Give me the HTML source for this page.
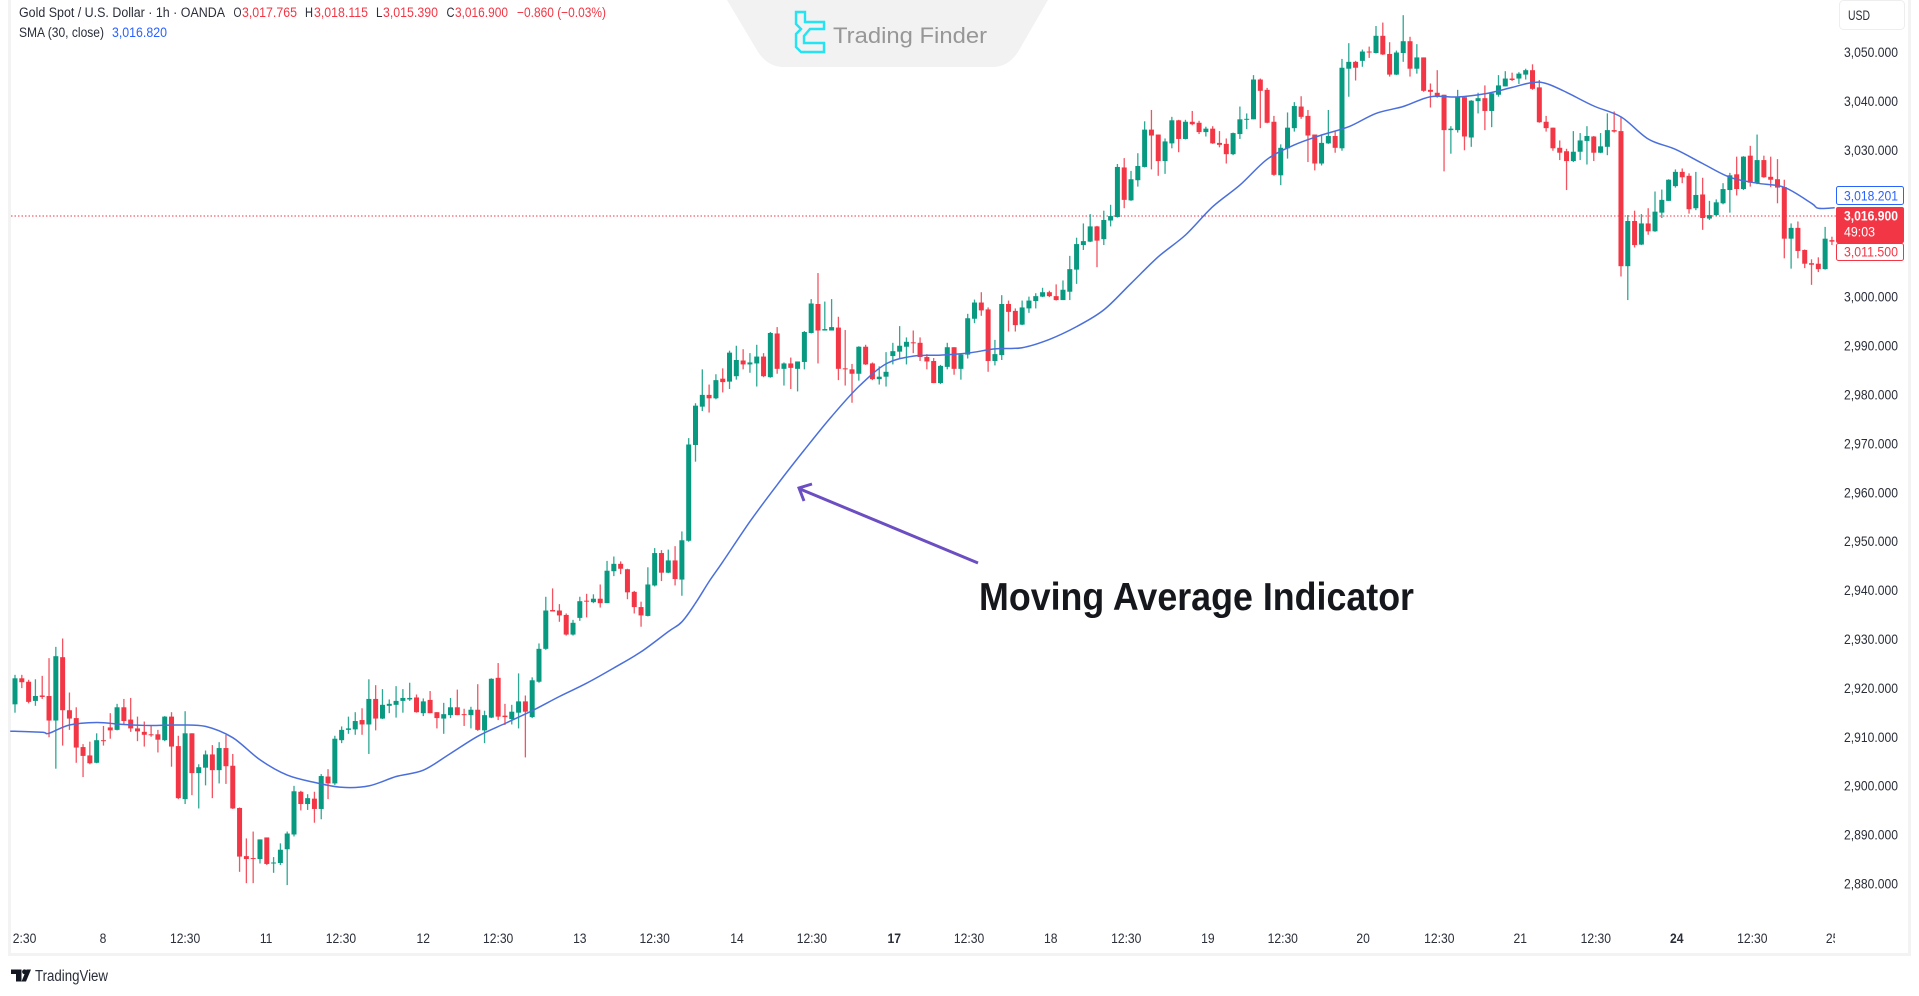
<!DOCTYPE html>
<html lang="en">
<head>
<meta charset="utf-8">
<title>Gold Spot / U.S. Dollar chart with Moving Average Indicator</title>
<style>
  html,body{margin:0;padding:0;background:#fff;width:1919px;height:996px;overflow:hidden}
  svg{display:block;filter:blur(.35px)}
  text{font-family:"Liberation Sans",sans-serif}
</style>
</head>
<body>
<svg id="chart" xmlns="http://www.w3.org/2000/svg" width="1919" height="996" viewBox="0 0 1919 996">
  <defs><clipPath id="time-clip"><rect x="12" y="920" width="1823" height="34"/></clipPath></defs>
  <rect width="1919" height="996" fill="#fff"/>
  <rect x="8" y="0" width="3" height="956" fill="#f3f3f3"/>
  <rect x="8" y="953" width="1903" height="3" fill="#f3f3f3"/>
  <rect x="1908" y="0" width="3" height="956" fill="#f3f3f3"/>

  <g id="y-axis"></g>
  <g id="x-axis" clip-path="url(#time-clip)"></g>

  <line x1="11" y1="216" x2="1836" y2="216" stroke="#f23645" stroke-width="1" stroke-dasharray="1.5 2"/>
  <g id="candles"></g>
  <path id="sma-line" fill="none" stroke="#4a6fdc" stroke-width="1.5" stroke-linejoin="round"/>

  <g font-size="13.5" fill="#2a2e39">
    <text x="19" y="17" textLength="206" lengthAdjust="spacingAndGlyphs">Gold Spot / U.S. Dollar · 1h · OANDA</text>
    <text x="233.5" y="17" textLength="8" lengthAdjust="spacingAndGlyphs">O</text>
    <text x="242" y="17" fill="#f23645" textLength="55" lengthAdjust="spacingAndGlyphs">3,017.765</text>
    <text x="305" y="17" textLength="8" lengthAdjust="spacingAndGlyphs">H</text>
    <text x="314" y="17" fill="#f23645" textLength="54" lengthAdjust="spacingAndGlyphs">3,018.115</text>
    <text x="376" y="17" textLength="6.5" lengthAdjust="spacingAndGlyphs">L</text>
    <text x="383" y="17" fill="#f23645" textLength="55" lengthAdjust="spacingAndGlyphs">3,015.390</text>
    <text x="446.5" y="17" textLength="8" lengthAdjust="spacingAndGlyphs">C</text>
    <text x="455" y="17" fill="#f23645" textLength="53" lengthAdjust="spacingAndGlyphs">3,016.900</text>
    <text x="517" y="17" fill="#f23645" textLength="89" lengthAdjust="spacingAndGlyphs">−0.860 (−0.03%)</text>
    <text x="19" y="37" textLength="85" lengthAdjust="spacingAndGlyphs">SMA (30, close)</text>
    <text x="112" y="37" fill="#2962ff" textLength="55" lengthAdjust="spacingAndGlyphs">3,016.820</text>
  </g>

  <g>
    <path d="M727 0H1048L1018 52Q1008 67 993 67H783Q768 67 758 52Z" fill="#f2f2f2"/>
    <path d="M796 12H805V22H824V29H810L804 36V43H824V52H801L796 47V34L801 29L796 24Z" fill="none" stroke="#22e4f2" stroke-width="2.4"/>
    <text x="833" y="43" font-size="22" fill="#979797" textLength="154" lengthAdjust="spacingAndGlyphs">Trading Finder</text>
  </g>

  <g fill="none" stroke="#6b4fc2" stroke-width="3">
    <line x1="978" y1="563" x2="800" y2="489"/>
    <polyline points="812,484 799,488 804,501"/>
  </g>
  <text x="979" y="610" font-size="39" font-weight="700" fill="#15171c" textLength="435" lengthAdjust="spacingAndGlyphs">Moving Average Indicator</text>

  <rect x="1839.5" y="0.5" width="65" height="29" rx="4" fill="#fff" stroke="#eeeeee"/>
  <text x="1848" y="20" font-size="13.5" fill="#2a2e39" textLength="22" lengthAdjust="spacingAndGlyphs">USD</text>

  <g font-size="14">
    <rect x="1836.5" y="186.5" width="67" height="18" rx="2" fill="#fff" stroke="#2962ff"/>
    <text x="1844" y="200.5" fill="#2962ff" textLength="54" lengthAdjust="spacingAndGlyphs">3,018.201</text>
    <rect x="1836" y="207" width="68" height="36" rx="2" fill="#f23645"/>
    <text x="1844" y="220.5" fill="#fff" font-weight="700" textLength="54" lengthAdjust="spacingAndGlyphs">3,016.900</text>
    <text x="1844" y="236.5" fill="#fff" textLength="31" lengthAdjust="spacingAndGlyphs">49:03</text>
    <rect x="1836.5" y="243.5" width="67" height="17" rx="2" fill="#fff" stroke="#f23645"/>
    <text x="1844" y="256.5" fill="#f23645" textLength="54" lengthAdjust="spacingAndGlyphs">3,011.500</text>
  </g>

  <g>
    <path d="M11 969.5H21.5V981.5H16V974H11Z" fill="#131722"/>
    <circle cx="24.5" cy="971.8" r="2.4" fill="#131722"/>
    <path d="M31 969.5L26 981.5H21.5L26.5 969.5Z" fill="#131722"/>
    <text x="35" y="981" font-size="15.5" fill="#2a2e39" textLength="73" lengthAdjust="spacingAndGlyphs">TradingView</text>
  </g>
</svg>

<script>
const opens = [
2917.4,2922.7,2922.0,2918.1,2919.2,2919.1,2914.1,2927.0,2916.2,2914.6,
2908.7,2907.0,2905.5,2910.1,2912.7,2912.2,2916.8,2914.3,2912.5,2911.8,
2911.3,2911.3,2910.1,2914.9,2908.9,2898.1,2911.5,2903.4,2904.5,2907.2,
2904.0,2908.5,2904.9,2896.3,2886.5,2886.1,2885.9,2890.3,2885.0,2885.1,
2887.9,2890.9,2899.6,2897.1,2898.2,2896.1,2902.7,2901.3,2910.1,2912.2,
2912.3,2914.2,2913.3,2918.5,2914.5,2917.1,2917.3,2918.1,2918.4,2918.8,
2915.6,2918.3,2915.8,2914.5,2915.2,2916.8,2915.4,2915.2,2916.3,2912.1,
2914.7,2922.8,2915.1,2914.4,2915.7,2918.0,2914.8,2922.0,2928.7,2936.6,
2936.5,2935.6,2931.6,2935.0,2938.5,2938.2,2938.9,2938.0,2944.5,2946.0,
2944.9,2940.3,2937.2,2935.4,2941.6,2948.2,2944.2,2946.7,2942.8,2950.7,
2970.2,2978.0,2980.4,2979.7,2983.7,2983.1,2984.2,2987.4,2986.6,2986.8,
2988.2,2984.0,2992.9,2985.7,2986.8,2985.7,2987.1,2993.0,2998.9,2993.5,
2993.5,2994.1,2985.8,2985.6,2984.7,2990.2,2986.8,2983.6,2984.1,2988.3,
2989.2,2990.2,2991.1,2991.0,2988.1,2987.3,2982.8,2986.1,2990.1,2985.7,
2988.6,2995.9,2999.2,2997.8,2987.3,2988.5,2998.9,2997.5,2994.7,2998.0,
2999.5,3000.4,3001.3,3000.5,2999.7,3001.4,3005.9,3010.9,3011.6,3014.7,
3012.1,3015.9,3016.6,3026.7,3020.0,3024.1,3026.8,3034.4,3033.4,3028.0,
3031.6,3036.3,3032.5,3036.0,3035.8,3033.9,3034.6,3031.7,3031.5,3029.4,
3033.5,3036.4,3036.5,3044.6,3042.5,3036.0,3025.1,3030.6,3034.7,3039.1,
3037.2,3033.4,3027.5,3031.6,3033.1,3030.6,3046.8,3048.2,3048.4,3050.3,
3050.0,3053.5,3049.8,3045.6,3050.0,3052.4,3046.8,3049.1,3042.5,3041.9,
3041.5,3034.3,3034.3,3041.0,3032.8,3040.2,3040.8,3038.2,3041.5,3043.2,
3044.8,3044.8,3045.6,3046.5,3043.0,3036.0,3034.8,3030.7,3030.0,3028.0,
3029.9,3032.1,3033.0,3029.7,3030.9,3034.3,3034.1,3006.6,3015.8,3011.0,
3015.3,3013.7,3017.5,3019.9,3022.9,3025.8,3025.0,3018.4,3021.2,3016.3,
3017.0,3019.4,3022.1,3025.3,3022.3,3029.1,3023.5,3028.2,3024.8,3024.3,
3022.7,3012.2,3014.4,3009.9,3007.2,3007.1,3006.0,3011.9];

const highs = [
2923.4,2923.4,2922.4,2922.5,2923.2,2926.8,2929.1,2930.8,2919.8,2916.8,
2909.3,2909.8,2911.5,2913.0,2915.6,2917.5,2918.5,2918.7,2914.9,2913.9,
2913.0,2912.2,2915.0,2915.8,2911.0,2916.0,2911.5,2905.2,2908.0,2909.1,
2909.7,2911.2,2907.3,2896.4,2890.1,2891.5,2889.9,2890.3,2886.3,2889.1,
2891.5,2900.8,2899.8,2899.1,2899.6,2903.2,2904.2,2911.0,2912.9,2914.9,
2915.8,2916.6,2922.5,2921.3,2920.5,2918.4,2921.1,2920.5,2921.8,2919.4,
2918.6,2920.1,2915.8,2917.7,2918.7,2920.4,2916.5,2916.9,2921.5,2916.1,
2922.7,2925.8,2917.5,2917.3,2923.7,2919.2,2922.9,2929.8,2939.3,2941.0,
2937.8,2935.9,2934.6,2939.3,2939.9,2939.8,2941.8,2946.6,2947.5,2946.5,
2945.0,2940.5,2938.3,2945.3,2949.2,2948.8,2948.9,2949.6,2952.6,2971.6,
2978.7,2985.6,2982.5,2984.6,2985.8,2989.4,2990.4,2989.7,2988.9,2990.6,
2988.9,2993.2,2994.2,2987.0,2988.0,2987.2,2993.4,2999.9,3005.2,2999.4,
2999.9,2996.3,2993.6,2986.7,2990.3,2990.6,2987.0,2986.2,2989.1,2991.0,
2994.4,2992.1,2993.5,2992.1,2988.7,2987.9,2986.5,2991.0,2990.1,2988.7,
2996.9,2999.8,3001.3,2998.2,2991.6,3000.7,2999.6,2998.0,2999.6,3000.4,
3001.1,3002.2,3001.6,3002.9,3003.7,3008.7,3012.4,3015.3,3017.2,3014.8,
3017.9,3019.1,3027.4,3028.6,3026.0,3029.6,3036.1,3038.4,3033.4,3032.6,
3037.0,3036.4,3036.4,3038.2,3036.2,3035.0,3035.1,3034.1,3032.6,3033.8,
3039.1,3037.7,3045.5,3044.8,3042.9,3037.2,3031.4,3037.9,3040.0,3041.2,
3038.4,3033.4,3033.3,3038.4,3034.2,3048.8,3052.0,3048.4,3050.7,3051.3,
3055.5,3056.2,3052.2,3050.5,3057.7,3053.3,3051.8,3049.1,3043.8,3046.5,
3041.5,3035.1,3042.5,3041.1,3040.4,3041.9,3043.4,3041.9,3045.5,3046.3,
3046.0,3046.1,3046.8,3047.7,3044.5,3037.2,3034.8,3032.2,3030.5,3034.1,
3033.7,3035.1,3033.1,3033.7,3037.7,3038.1,3037.0,3017.0,3017.9,3017.2,
3018.4,3021.8,3022.2,3024.3,3026.3,3026.5,3025.5,3025.8,3024.6,3019.9,
3020.2,3023.5,3025.6,3028.9,3029.0,3031.1,3033.4,3029.1,3028.9,3028.4,
3024.2,3015.3,3015.7,3010.0,3008.0,3008.4,3014.6,3012.6];

const lows = [
2915.7,2920.7,2917.6,2917.1,2918.5,2910.7,2904.3,2909.0,2912.2,2905.5,
2902.6,2905.2,2905.4,2909.0,2910.4,2912.1,2913.4,2911.8,2909.9,2908.8,
2910.8,2907.6,2909.9,2904.7,2898.1,2897.1,2898.9,2896.2,2900.9,2898.3,
2901.3,2901.2,2896.1,2883.3,2881.0,2881.0,2885.0,2884.7,2883.1,2884.7,
2880.6,2890.5,2895.8,2895.9,2893.3,2894.0,2898.1,2901.0,2909.5,2911.4,
2911.2,2911.2,2907.3,2912.1,2914.4,2915.6,2914.7,2915.7,2918.1,2915.7,
2915.0,2915.6,2912.5,2911.4,2914.6,2915.2,2913.0,2912.5,2912.0,2909.5,
2914.6,2914.2,2913.2,2913.3,2912.5,2906.6,2914.6,2921.8,2928.5,2936.3,
2934.2,2931.4,2931.4,2934.4,2935.1,2938.0,2937.1,2938.0,2943.5,2943.9,
2938.8,2935.9,2933.2,2935.3,2941.4,2942.5,2944.1,2941.6,2939.5,2950.5,
2966.8,2977.1,2976.8,2979.5,2980.9,2981.6,2983.5,2985.6,2984.9,2982.1,
2984.0,2983.9,2984.7,2982.3,2981.6,2981.1,2985.6,2992.9,2986.8,2993.5,
2993.5,2983.4,2982.3,2978.8,2983.3,2986.5,2983.4,2982.5,2982.1,2986.6,
2987.7,2986.6,2988.9,2987.3,2985.6,2982.8,2982.6,2985.6,2984.5,2983.5,
2987.8,2995.0,2996.5,2985.1,2986.4,2987.5,2993.3,2993.3,2994.6,2997.1,
2998.0,3000.3,3000.3,2999.6,2999.7,2999.7,3003.0,3009.9,3011.5,3006.4,
3010.9,3014.7,3016.5,3018.4,3019.9,3022.8,3026.7,3026.3,3025.0,3025.4,
3030.6,3029.8,3032.4,3035.3,3033.5,3033.0,3031.5,3030.8,3027.5,3029.2,
3032.5,3034.5,3036.5,3034.7,3035.7,3025.0,3023.1,3028.5,3034.0,3036.6,
3027.8,3026.1,3027.1,3031.5,3029.7,3030.1,3041.1,3044.4,3047.2,3049.0,
3049.9,3049.6,3045.2,3045.5,3048.2,3045.2,3045.8,3042.1,3038.9,3040.9,
3025.9,3029.5,3033.8,3030.2,3030.9,3037.7,3034.3,3034.9,3041.1,3043.2,
3044.3,3043.7,3044.6,3042.5,3035.8,3034.0,3030.1,3028.2,3022.1,3027.8,
3028.2,3027.3,3028.0,3029.6,3029.2,3033.8,3004.5,2999.7,3010.4,3010.9,
3013.0,3013.6,3016.4,3019.9,3022.6,3023.5,3017.3,3018.0,3014.0,3016.0,
3016.8,3019.2,3017.5,3021.0,3022.1,3022.8,3023.3,3024.6,3022.7,3019.4,
3008.2,3006.1,3008.2,3006.2,3002.8,3005.4,3005.9,3010.9];

const closes = [
2922.7,2921.9,2917.9,2919.1,2918.9,2914.1,2927.2,2916.2,2914.5,2908.6,
2906.9,2905.4,2910.1,2909.9,2912.1,2916.8,2914.0,2912.5,2911.9,2911.2,
2911.1,2910.2,2914.9,2908.8,2898.3,2911.5,2903.4,2904.6,2907.2,2904.0,
2908.5,2904.8,2896.2,2886.4,2885.9,2885.9,2889.9,2884.9,2885.2,2887.8,
2891.1,2899.7,2897.1,2898.3,2896.1,2902.8,2901.3,2910.4,2912.2,2912.5,
2914.0,2913.3,2918.5,2914.5,2917.3,2917.5,2918.1,2918.7,2918.7,2915.8,
2918.0,2915.6,2914.6,2915.4,2916.8,2915.2,2915.2,2916.3,2912.2,2915.2,
2922.6,2914.9,2914.8,2915.9,2918.0,2915.9,2922.3,2928.7,2936.5,2936.3,
2935.5,2931.6,2934.0,2938.4,2938.3,2938.9,2938.0,2944.6,2946.0,2945.0,
2940.2,2937.2,2935.5,2941.8,2948.2,2944.2,2946.7,2942.9,2950.8,2970.3,
2978.2,2980.4,2979.7,2983.4,2983.0,2989.0,2987.5,2986.6,2987.0,2988.2,
2984.2,2993.0,2985.7,2986.8,2985.9,2987.2,2993.2,2999.0,2993.5,2993.8,
2994.2,2985.7,2985.7,2984.7,2990.2,2986.6,2983.6,2984.1,2985.1,2989.3,
2990.4,2991.2,2990.9,2988.1,2987.2,2982.8,2986.3,2990.1,2985.7,2988.6,
2996.0,2999.2,2997.6,2987.3,2988.7,2998.9,2997.3,2994.6,2998.2,2999.6,
3000.5,3001.3,3000.5,2999.7,3001.8,3006.0,3011.1,3011.7,3014.7,3011.8,
3016.0,3016.8,3026.8,3020.1,3024.3,3027.0,3034.4,3033.2,3028.0,3032.0,
3036.3,3032.5,3036.0,3035.5,3033.9,3034.6,3031.6,3031.3,3029.4,3033.7,
3036.5,3036.6,3044.6,3042.3,3035.8,3025.2,3030.7,3034.8,3039.2,3037.0,
3033.2,3027.5,3031.7,3033.1,3030.7,3047.0,3048.2,3047.0,3050.3,3050.1,
3053.5,3049.7,3045.6,3050.1,3052.4,3046.8,3049.1,3042.3,3042.1,3041.1,
3034.3,3034.6,3041.0,3033.0,3040.3,3040.8,3038.2,3041.8,3043.4,3044.8,
3044.5,3045.8,3046.5,3042.7,3035.9,3034.7,3030.6,3029.7,3028.0,3029.9,
3032.2,3033.1,3029.7,3031.0,3034.3,3034.0,3006.6,3015.8,3010.9,3015.3,
3013.7,3017.7,3020.1,3024.2,3025.8,3024.7,3018.2,3021.1,3016.4,3017.0,
3019.6,3022.3,3025.1,3022.3,3028.9,3023.6,3028.2,3024.7,3024.2,3022.6,
3012.2,3014.4,3009.7,3007.1,3006.9,3006.0,3012.2,3011.6];

const smaBars = [-0.7,0,4,5,8,12,16,20,24,28,32,36,40,44,48,52,56,60,64,68,72,76,80,84,88,92,96,98,100,102,104,108,112,116,120,124,128,132,136,140,144,148,152,156,160,164,168,172,176,180,184,188,192,196,200,204,208,212,216,220,223,225,228,232,236,240,244,248,252,256,260,264,265,267.4];
const smaValues = [2911.9,2911.9,2911.7,2911.5,2913.2,2913.7,2913.3,2913.1,2913.2,2912.9,2910.6,2906.1,2903.0,2901.5,2900.5,2900.8,2902.7,2904.0,2907.4,2910.9,2913.5,2916.1,2919.0,2921.7,2924.8,2928.1,2932.2,2934.2,2938.0,2942.4,2946.4,2954.6,2962.1,2969.2,2976.0,2982.1,2986.7,2988.3,2988.5,2988.9,2989.75,2990.0,2991.7,2994.3,2997.7,3003.1,3008.5,3012.95,3018.7,3023.1,3028.35,3031.3,3033.3,3035.0,3037.7,3039.1,3041.1,3041.05,3041.7,3043.0,3044.0,3043.8,3042.0,3039.2,3037.0,3032.5,3030.4,3027.5,3024.7,3023.5,3022.65,3019.4,3018.4,3018.5];

const priceTicks = [3050,3040,3030,3020,3010,3000,2990,2980,2970,2960,2950,2940,2930,2920,2910,2900,2890,2880];
const priceTickLabels = ["3,050.000","3,040.000","3,030.000","","","3,000.000","2,990.000","2,980.000","2,970.000","2,960.000","2,950.000","2,940.000","2,930.000","2,920.000","2,910.000","2,900.000","2,890.000","2,880.000"];

const timeTickBars = [1.4,12.93,25,36.9,47.9,60,71,83,94,106.1,117.1,129.2,140.2,152.2,163.3,175.3,186.3,198.1,209.3,221.2,232.3,244.2,255.3,267.1];
const timeTickLabels = ["2:30","8","12:30","11","12:30","12","12:30","13","12:30","14","12:30","17","12:30","18","12:30","19","12:30","20","12:30","21","12:30","24","12:30","25"];
const boldTimeLabels = ["17","24"];

const SVGNS = 'http://www.w3.org/2000/svg';
const UP = '#089981';
const DOWN = '#f23645';

function xOf(bar){ return 15 + 6.805 * bar; }
function yOf(price){ return 53 + (3050 - price) * 4.912; }
function tickY(price){ return 52.2 + (3050 - price) * 4.89; }

const candleGroup = document.getElementById('candles');
opens.forEach(function(open, i){
  const close = closes[i];
  const color = close >= open ? UP : DOWN;
  const x = xOf(i);
  const wick = document.createElementNS(SVGNS, 'rect');
  
  
  wick.setAttribute('x', x - 0.65);
  wick.setAttribute('width', 1.3);
  wick.setAttribute('y', yOf(highs[i]));
  wick.setAttribute('height', Math.max(yOf(lows[i]) - yOf(highs[i]), 0.5));
  wick.setAttribute('fill', color);
  wick.setAttribute('fill-opacity', '0.85');
  candleGroup.appendChild(wick);
  const body = document.createElementNS(SVGNS, 'rect');
  
  
  const top = yOf(Math.max(open, close));
  body.setAttribute('x', x - 2.5);
  body.setAttribute('width', 5);
  body.setAttribute('y', top);
  body.setAttribute('height', Math.max(yOf(Math.min(open, close)) - top, 1));
  body.setAttribute('fill', color);
  candleGroup.appendChild(body);
});

const smaPts = smaBars.map(function(bar, i){
  return [xOf(bar), yOf(smaValues[i])];
});
let smaPath = 'M' + smaPts[0][0].toFixed(1) + ' ' + smaPts[0][1].toFixed(1);
for(let i = 0; i < smaPts.length - 1; i++){
  const p0 = smaPts[Math.max(i - 1, 0)];
  const p1 = smaPts[i];
  const p2 = smaPts[i + 1];
  const p3 = smaPts[Math.min(i + 2, smaPts.length - 1)];
  const c1x = p1[0] + (p2[0] - p0[0]) / 6;
  const c1y = p1[1] + (p2[1] - p0[1]) / 6;
  const c2x = p2[0] - (p3[0] - p1[0]) / 6;
  const c2y = p2[1] - (p3[1] - p1[1]) / 6;
  smaPath += 'C' + c1x.toFixed(1) + ' ' + c1y.toFixed(1) + ' ' + c2x.toFixed(1) + ' ' + c2y.toFixed(1) + ' ' + p2[0].toFixed(1) + ' ' + p2[1].toFixed(1);
}
document.getElementById('sma-line').setAttribute('d', smaPath);

const yAxis = document.getElementById('y-axis');
priceTicks.forEach(function(price, i){
  if(!priceTickLabels[i]) return;
  const t = document.createElementNS(SVGNS, 'text');
  
  
  t.setAttribute('x', 1844);
  t.setAttribute('y', tickY(price) + 5);
  t.setAttribute('font-size', 14);
  t.setAttribute('fill', '#2a2e39');
  t.setAttribute('textLength', 54);
  t.setAttribute('lengthAdjust', 'spacingAndGlyphs');
  t.textContent = priceTickLabels[i];
  yAxis.appendChild(t);
});

const xAxis = document.getElementById('x-axis');
timeTickBars.forEach(function(bar, i){
  const label = timeTickLabels[i];
  const t = document.createElementNS(SVGNS, 'text');
  
  
  t.setAttribute('y', 943);
  t.setAttribute('font-size', 14);
  t.setAttribute('fill', '#2a2e39');
  if(boldTimeLabels.indexOf(label) >= 0){
    t.setAttribute('font-weight', '700');
  }
  t.textContent = label;
  xAxis.appendChild(t);
  const w = t.getComputedTextLength() * 0.865;
  t.setAttribute('textLength', w);
  t.setAttribute('lengthAdjust', 'spacingAndGlyphs');
  t.setAttribute('x', xOf(bar) - w / 2);
});
</script>
</body>
</html>
